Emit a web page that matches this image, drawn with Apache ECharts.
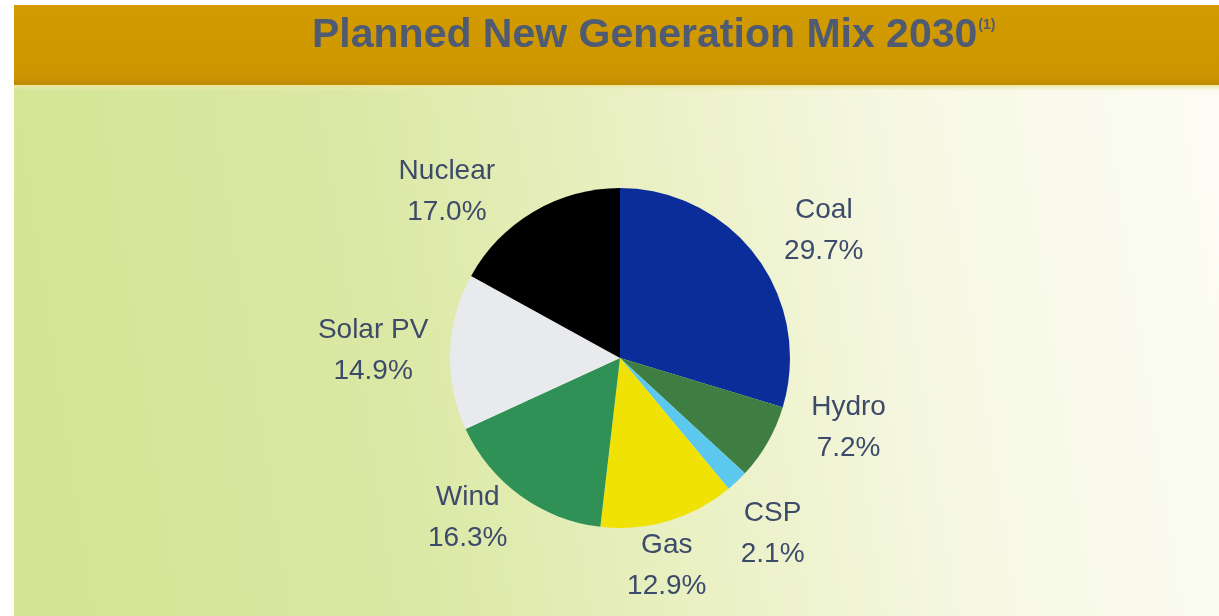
<!DOCTYPE html>
<html>
<head>
<meta charset="utf-8">
<script src="https://cdn.jsdelivr.net/npm/echarts@6/dist/echarts.min.js"></script>
<style>
html,body{margin:0;padding:0;background:#ffffff;}
#chart{width:1219px;height:616px;}
</style>
</head>
<body>
<div id="chart"></div>
<script>
// ---- data ----
var titleText = 'Planned New Generation Mix 2030';
var titleNote = '(1)';
var categories = ['Coal', 'Hydro', 'CSP', 'Gas', 'Wind', 'Solar PV', 'Nuclear'];
var shares = [29.7, 7.2, 2.1, 12.9, 16.3, 14.9, 17.0];

// ---- styling / label placement (not data) ----
var sliceColors = ['#0b2d9a', '#3f7e42', '#5cc8ee', '#f1e206', '#2f9156', '#e8eaed', '#000000'];
var labelReach = [[44, 27], [-30, 102], [72, -19], [47, -20], [28, 31], [40, 32], [23, 70]];

var pieData = categories.map(function (c, i) {
  return {
    name: c,
    value: shares[i],
    itemStyle: { color: sliceColors[i] },
    labelLine: { length: labelReach[i][0], length2: labelReach[i][1] }
  };
});

var chart = echarts.init(document.getElementById('chart'), null, { renderer: 'canvas' });
chart.setOption({
  animation: false,
  backgroundColor: '#ffffff',
  graphic: [
    {
      type: 'rect', z: -10, silent: true,
      shape: { x: 14, y: 5, width: 1205, height: 611 },
      style: {
        fill: new echarts.graphic.LinearGradient(0, 0.6, 1, 0.3, [
          { offset: 0, color: '#d3e594' },
          { offset: 0.3, color: '#dbe8a4' },
          { offset: 0.55, color: '#ebf1c6' },
          { offset: 0.75, color: '#f6f8e3' },
          { offset: 1, color: '#fcfcf4' }
        ])
      }
    },
    {
      type: 'rect', z: -9, silent: true,
      shape: { x: 14, y: 85, width: 1205, height: 6 },
      style: { fill: new echarts.graphic.LinearGradient(0, 0, 0, 1, [
        { offset: 0, color: '#ece49a' },
        { offset: 1, color: 'rgba(236,240,190,0)' }
      ]) }
    },
    {
      type: 'rect', z: -8, silent: true,
      shape: { x: 14, y: 5, width: 1205, height: 80 },
      style: { fill: new echarts.graphic.LinearGradient(0, 0, 0, 1, [
        { offset: 0, color: '#d29b00' },
        { offset: 0.85, color: '#cd9600' },
        { offset: 1, color: '#c18c00' }
      ]) }
    }
  ],
  title: {
    text: '{a|' + titleText + '}{s|' + titleNote + '}',
    left: 307,
    top: 10,
    textStyle: {
      rich: {
        a: { fontFamily: 'Liberation Sans, Arial, sans-serif', fontWeight: 'bold', fontSize: 41, color: '#4f5b72' },
        s: { fontFamily: 'Liberation Sans, Arial, sans-serif', fontWeight: 'bold', fontSize: 14, color: '#4f5b72', padding: [0, 0, 20, 1] }
      }
    }
  },
  series: [{
    type: 'pie',
    silent: true,
    center: [620, 358],
    radius: 170,
    startAngle: 90,
    clockwise: true,
    avoidLabelOverlap: false,
    data: pieData,
    itemStyle: { borderWidth: 0 },
    label: {
      show: true,
      position: 'outside',
      distanceToLabelLine: 5,
      fontFamily: 'Liberation Sans, Arial, sans-serif',
      fontSize: 28,
      lineHeight: 41,
      color: '#3d4b6a',
      formatter: function (p) { return p.name + '\n' + p.value.toFixed(1) + '%'; }
    },
    labelLine: { show: false },
    labelLayout: function () { return { align: 'center', verticalAlign: 'middle' }; }
  }]
});
</script>
</body>
</html>
